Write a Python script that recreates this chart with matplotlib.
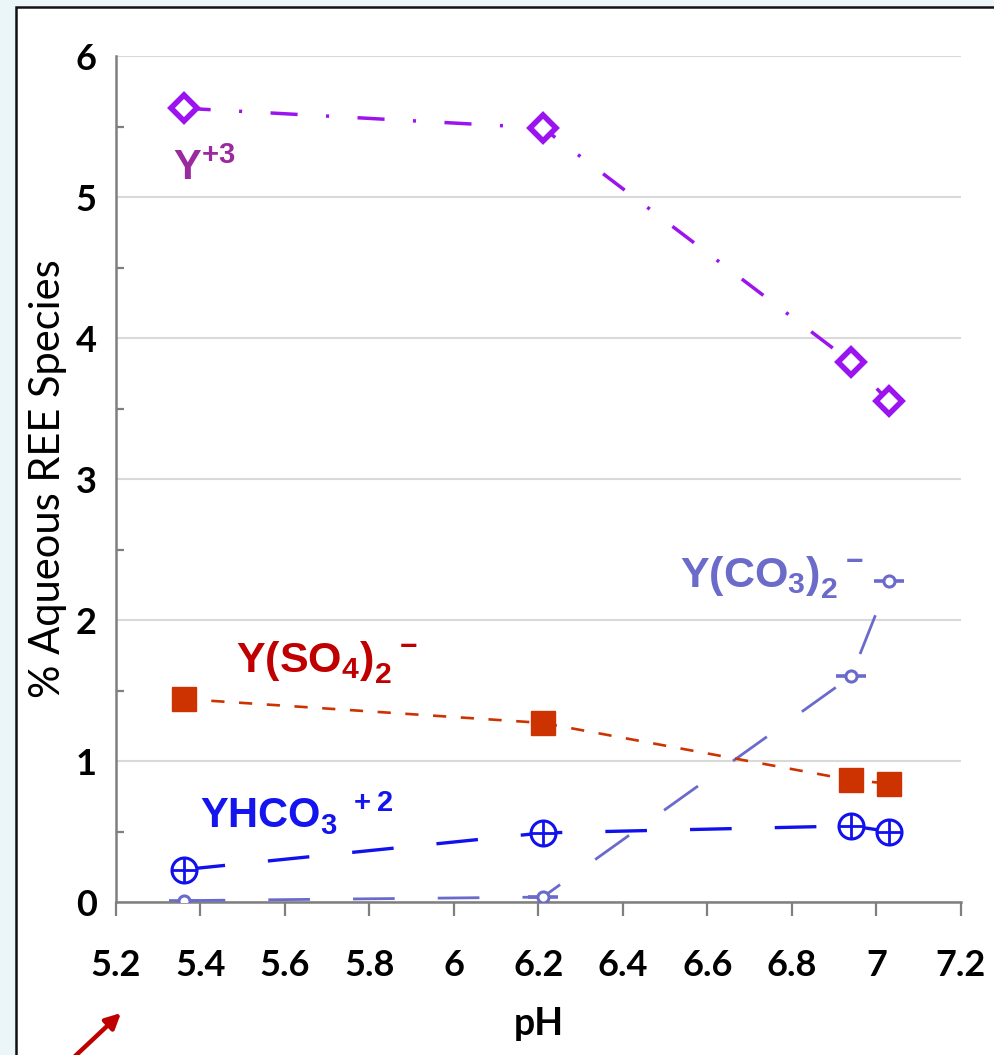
import numpy as np
import matplotlib
matplotlib.use("Agg")
import matplotlib.pyplot as plt
from matplotlib.patches import Rectangle
from matplotlib.ticker import MultipleLocator

plt.rcParams['mathtext.fontset'] = 'custom'
plt.rcParams['mathtext.rm'] = 'Liberation Sans'
plt.rcParams['mathtext.bf'] = 'Liberation Sans:bold'
plt.rcParams['lines.scale_dashes'] = False  # dash lengths below are in points

# pH of the four samples and the species share (%) at each
ph = [5.36, 6.21, 6.94, 7.03]
y3 = [5.63, 5.49, 3.83, 3.55]
yso4 = [1.44, 1.27, 0.865, 0.84]
yhco3 = [0.23, 0.49, 0.54, 0.50]
yco3 = [0.01, 0.035, 1.60, 2.28]

xticks = [5.2, 5.4, 5.6, 5.8, 6, 6.2, 6.4, 6.6, 6.8, 7, 7.2]
xticklabels = ['5.2', '5.4', '5.6', '5.8', '6', '6.2', '6.4', '6.6', '6.8', '7', '7.2']

fig = plt.figure(figsize=(9.94, 10.55), dpi=100)
fig.patch.set_facecolor('#eaf6f7')
frame = Rectangle((0.0161, -0.1), 1.2, 1.0934, transform=fig.transFigure,
                  facecolor='white', edgecolor='#111111', lw=1.8, zorder=-5)
fig.patches.append(frame)

ax = fig.add_axes([0.1167, 0.1450, 0.8501, 0.8019])

# Y+3: dash-dot line, open diamonds
ax.plot(ph, y3, color='#9b14f0', lw=2.5, dashes=(19.5, 20.5, 2.2, 20.5),
        marker='D', ms=13.5, mfc='white', mec='#9b14f0', mew=4, zorder=5)

# Y(SO4)2-: short dashes, filled squares
ax.plot(ph, yso4, color='#cc3300', lw=1.9, dashes=(9.5, 10.5),
        marker='s', ms=17, mfc='#cc3300', mec='#cc3300', mew=1, zorder=4)

# YHCO3+2: long dashes, circled plus
ax.plot(ph, yhco3, color='#1111ee', lw=2.4, dashes=(30, 31),
        marker='o', ms=18, mfc='white', mec='#1111ee', mew=2.2, zorder=4)
ax.plot(ph, yhco3, ls='none', marker='+', ms=18, mec='#1111ee', mew=2.0, zorder=5)

# Y(CO3)2-: long dashes, small circles with bars
ax.plot(ph, yco3, color='#6a6acc', lw=2.0, dashes=(30, 31),
        marker='o', ms=8, mfc='white', mec='#6a6acc', mew=2.2, zorder=3)
ax.plot(ph, yco3, ls='none', marker='_', ms=21, mec='#6a6acc', mew=2.6, zorder=2)

# species labels
ax.text(5.335, 5.12, r'$\mathbf{Y^{+3}}$', color='#9a2a9e', fontsize=30, va='baseline')
ax.text(5.484, 1.63, r'$\mathbf{Y(SO_4)_2^{\ \ -}}$', color='#c00000', fontsize=31, va='baseline')
ax.text(5.399, 0.525, r'$\mathbf{YHCO_3{}^{\ +2}}$', color='#1414ee', fontsize=30, va='baseline')
ax.text(6.535, 2.23, r'$\mathbf{Y(CO_3)_2^{\ \ -}}$', color='#6b6bc9', fontsize=31, va='baseline')

ax.set_xlim(5.2, 7.2)
ax.set_ylim(0, 6)
ax.set_xticks(xticks)
ax.set_xticklabels(xticklabels)
ax.set_yticks(range(0, 7))
ax.yaxis.set_minor_locator(MultipleLocator(0.5))
ax.grid(axis='y', color='#d9d9d9', lw=1.5)
ax.set_axisbelow(True)

for s in ['top', 'right']:
    ax.spines[s].set_visible(False)
for s in ['left', 'bottom']:
    ax.spines[s].set_color('#7f7f7f')
    ax.spines[s].set_linewidth(1.8)

ax.tick_params(axis='x', direction='out', length=10, width=1.6, color='#7f7f7f', pad=24)
ax.tick_params(axis='y', which='major', length=0, pad=14)
ax.tick_params(axis='y', which='minor', direction='in', length=6, width=1.6, color='#7f7f7f')
for lab in ax.get_xticklabels() + ax.get_yticklabels():
    lab.set_fontfamily('Lato')
    lab.set_fontweight('bold')
    lab.set_fontsize(26)

ax.set_xlabel('pH', fontfamily='Lato', fontweight='bold', fontsize=27, labelpad=18)
ax.set_ylabel('% Aqueous REE Species', fontfamily='Lato', fontsize=30, labelpad=6)

# red pointer near the x-axis origin
ax.annotate('', xy=(121, 42), xycoords='figure pixels',
            xytext=(55, -20), textcoords='figure pixels',
            arrowprops=dict(arrowstyle='-|>,head_length=0.9,head_width=0.45',
                            color='#c00000', lw=3.2, shrinkA=0, shrinkB=0),
            annotation_clip=False)

fig.savefig('out.png', dpi=100, facecolor=fig.get_facecolor())
